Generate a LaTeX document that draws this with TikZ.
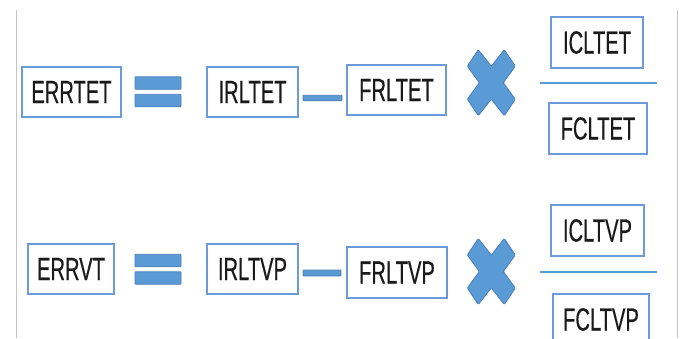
\documentclass[tikz,border=0pt]{standalone}
\usepackage{fontspec}
\setmainfont{Liberation Sans}[FakeBold=0.6]
\definecolor{boxblue}{HTML}{6B9BDA}
\definecolor{opfill}{HTML}{5B9BD5}
\definecolor{opdraw}{HTML}{4A7EBB}
\definecolor{rulegray}{HTML}{C4C4C4}
\definecolor{txt}{HTML}{1A1A1A}
\newcommand{\narrowtxt}[1]{\scalebox{0.63}[1]{#1}}
\tikzset{
  termbox/.style={draw=boxblue, line width=1.5pt, fill=white, inner sep=0pt,
    text=txt, font=\fontsize{32}{32}\selectfont},
  opbar/.style={draw=opdraw, line width=0.8pt, fill=opfill, inner sep=0pt, rounded corners=0.8pt},
  fracline/.style={draw=opfill, line width=1.5pt},
  sideline/.style={draw=rulegray, line width=1pt},
  cross/.style={fill=opfill, draw=opdraw, line width=0.8pt, rounded corners=1pt}
}
\begin{document}
\begin{tikzpicture}[x=1pt, y=-1pt]
\useasboundingbox (0,0) rectangle (683,338);
\fill[white] (0,0) rectangle (683,338);
% side rules
\coordinate (lt) at (16,10); \coordinate (lb) at (16,338);
\coordinate (rt) at (677,10); \coordinate (rb) at (677,338);
\draw[sideline] (lt) -- (lb);
\draw[sideline] (rt) -- (rb);

% ---- row 1 ----
\node[termbox, minimum width=99pt, minimum height=50pt] (errtet) at (71.5,92) {\narrowtxt{ERRTET}};
\node[opbar, minimum width=46pt, minimum height=12.5pt] (eq1a) at (158,83) {};
\node[opbar, minimum width=46pt, minimum height=12.5pt] (eq1b) at (158,100.5) {};
\node[termbox, minimum width=91pt, minimum height=50pt] (irltet) at (252.5,92) {\narrowtxt{IRLTET}};
\node[opbar, minimum width=39pt, minimum height=5.5pt] (mi1) at (322.5,98) {};
\node[termbox, minimum width=99pt, minimum height=50pt] (frltet) at (396.5,90) {\narrowtxt{FRLTET}};
\begin{scope}[shift={(491.3,82.7)}]
\path[cross] (-13,-33) -- (0,-16.5) -- (13,-33) -- (24,-16.5) -- (12,0) -- (24,16.5) -- (13,33) -- (0,16.5) -- (-13,33) -- (-24,16.5) -- (-12,0) -- (-24,-16.5) -- cycle;
\end{scope}
\node[termbox, minimum width=92pt, minimum height=51pt] (icltet) at (597,42.5) {\narrowtxt{ICLTET}};
\node[termbox, minimum width=98pt, minimum height=51pt] (fcltet) at (598,128.5) {\narrowtxt{FCLTET}};
\coordinate (f1l) at (540,83); \coordinate (f1r) at (657,83);
\draw[fracline] (f1l) -- (f1r);

% ---- row 2 ----
\node[termbox, minimum width=86pt, minimum height=50pt] (errvt) at (71,269) {\narrowtxt{ERRVT}};
\node[opbar, minimum width=46pt, minimum height=12.5pt] (eq2a) at (158,260.5) {};
\node[opbar, minimum width=46pt, minimum height=12.5pt] (eq2b) at (158,278) {};
\node[termbox, minimum width=91pt, minimum height=50pt] (irltvp) at (252.5,269) {\narrowtxt{IRLTVP}};
\node[opbar, minimum width=38pt, minimum height=6pt] (mi2) at (322,273) {};
\node[termbox, minimum width=100pt, minimum height=51pt] (frltvp) at (397,272.5) {\narrowtxt{FRLTVP}};
\begin{scope}[shift={(491.3,271.5)}]
\path[cross] (-13,-33) -- (0,-16.5) -- (13,-33) -- (24,-16.5) -- (12,0) -- (24,16.5) -- (13,33) -- (0,16.5) -- (-13,33) -- (-24,16.5) -- (-12,0) -- (-24,-16.5) -- cycle;
\end{scope}
\node[termbox, minimum width=93pt, minimum height=51pt] (icltvp) at (597.5,230.5) {\narrowtxt{ICLTVP}};
\node[termbox, minimum width=96pt, minimum height=51pt] (fcltvp) at (601,319.5) {\narrowtxt{FCLTVP}};
\coordinate (f2l) at (540,272); \coordinate (f2r) at (657,272);
\draw[fracline] (f2l) -- (f2r);
\end{tikzpicture}
\end{document}
